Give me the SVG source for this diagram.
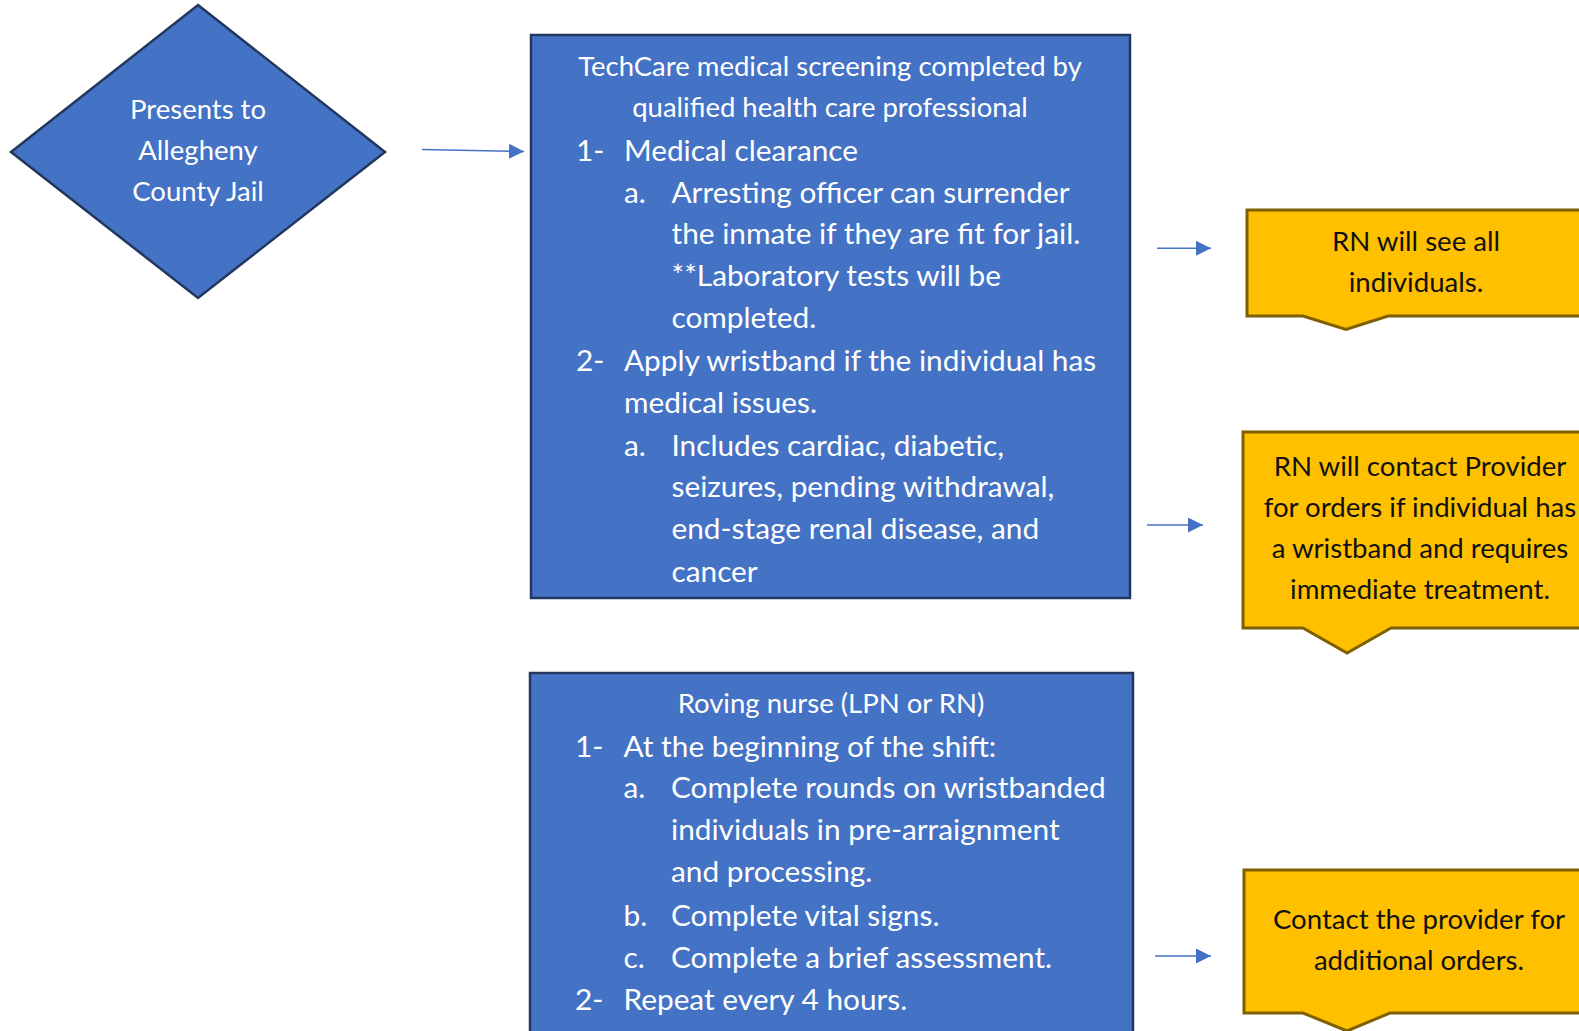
<svg xmlns="http://www.w3.org/2000/svg" width="1579" height="1031" viewBox="0 0 1579 1031">
<style>
.blue{fill:#4472C4;stroke:#22375E;stroke-width:2.5}
.yel{fill:#FFC000;stroke:#7F6000;stroke-width:3}
.t{font-family:Lato,"Liberation Sans",sans-serif;fill:#fff}
.h{font-size:27.5px;text-anchor:middle}
.l{font-size:29.8px}
.d{font-size:27.5px}
.y{font-family:Lato,"Liberation Sans",sans-serif;fill:#111;font-size:27.6px;text-anchor:middle}
.c{stroke:#4472C4;stroke-width:1.5;fill:none}
</style>
<defs>
<marker id="ah" markerUnits="userSpaceOnUse" markerWidth="16" markerHeight="16" refX="15" refY="7.5" orient="auto">
<path d="M0,0 L15,7.5 L0,15 z" fill="#4472C4"/>
</marker>
</defs>
<rect width="1579" height="1031" fill="#fff"/>
<g id="start">
<polygon class="blue" points="198,5 385,152 198,298 11,152"/>
<text class="t h d" x="198" y="119">Presents to</text>
<text class="t h d" x="198" y="160">Allegheny</text>
<text class="t h d" x="198" y="201">County Jail</text>
</g>
<g id="screening">
<rect class="blue" x="531" y="35" width="599" height="563"/>
<text class="t h" x="830" y="76">TechCare medical screening completed by</text>
<text class="t h" x="830" y="117">qualified health care professional</text>
<text class="t l" x="576" y="160.5">1-</text><text class="t l" x="624" y="160.5">Medical clearance</text>
<text class="t l" x="624" y="202.8">a.</text><text class="t l" x="671.5" y="202.8">Arresting officer can surrender</text>
<text class="t l" x="671.5" y="244">the inmate if they are fit for jail.</text>
<text class="t l" x="671.5" y="286.3">**Laboratory tests will be</text>
<text class="t l" x="671.5" y="328">completed.</text>
<text class="t l" x="576" y="371">2-</text><text class="t l" x="624" y="371">Apply wristband if the individual has</text>
<text class="t l" x="624" y="413">medical issues.</text>
<text class="t l" x="624" y="455.5">a.</text><text class="t l" x="671.5" y="455.5">Includes cardiac, diabetic,</text>
<text class="t l" x="671.5" y="497">seizures, pending withdrawal,</text>
<text class="t l" x="671.5" y="539">end-stage renal disease, and</text>
<text class="t l" x="671.5" y="581.5">cancer</text>
</g>
<g id="roving">
<rect class="blue" x="530" y="673" width="603" height="372"/>
<text class="t h" x="831" y="712.7">Roving nurse (LPN or RN)</text>
<text class="t l" x="575" y="757">1-</text><text class="t l" x="623.5" y="757">At the beginning of the shift:</text>
<text class="t l" x="623.5" y="798">a.</text><text class="t l" x="671" y="798">Complete rounds on wristbanded</text>
<text class="t l" x="671" y="840">individuals in pre-arraignment</text>
<text class="t l" x="671" y="882">and processing.</text>
<text class="t l" x="623.5" y="926">b.</text><text class="t l" x="671" y="926">Complete vital signs.</text>
<text class="t l" x="623.5" y="968">c.</text><text class="t l" x="671" y="968">Complete a brief assessment.</text>
<text class="t l" x="575" y="1010.3">2-</text><text class="t l" x="623.5" y="1010.3">Repeat every 4 hours.</text>
</g>
<g id="rn-see">
<path class="yel" d="M1247,210 H1590 V316 H1388 L1346,329.5 L1303,316 H1247 Z"/>
<text class="y" x="1416" y="251">RN will see all</text>
<text class="y" x="1416" y="291.5">individuals.</text>
</g>
<g id="rn-contact">
<path class="yel" d="M1243,432 H1590 V628 H1391 L1347,653 L1303,628 H1243 Z"/>
<text class="y" x="1420" y="476">RN will contact Provider</text>
<text class="y" x="1420" y="517">for orders if individual has</text>
<text class="y" x="1420" y="558">a wristband and requires</text>
<text class="y" x="1420" y="599.3">immediate treatment.</text>
</g>
<g id="contact-provider">
<path class="yel" d="M1244,870 H1590 V1013 H1390 L1347,1031 L1303,1013 H1244 Z"/>
<text class="y" x="1419" y="929.3">Contact the provider for</text>
<text class="y" x="1419" y="970.3">additional orders.</text>
</g>
<g id="connectors">
<line class="c" x1="422" y1="149.5" x2="524" y2="151.5" marker-end="url(#ah)"/>
<line class="c" x1="1157" y1="248.3" x2="1211" y2="248.3" marker-end="url(#ah)"/>
<line class="c" x1="1147" y1="525" x2="1203" y2="525" marker-end="url(#ah)"/>
<line class="c" x1="1155" y1="956" x2="1211" y2="956" marker-end="url(#ah)"/>
</g>
</svg>
